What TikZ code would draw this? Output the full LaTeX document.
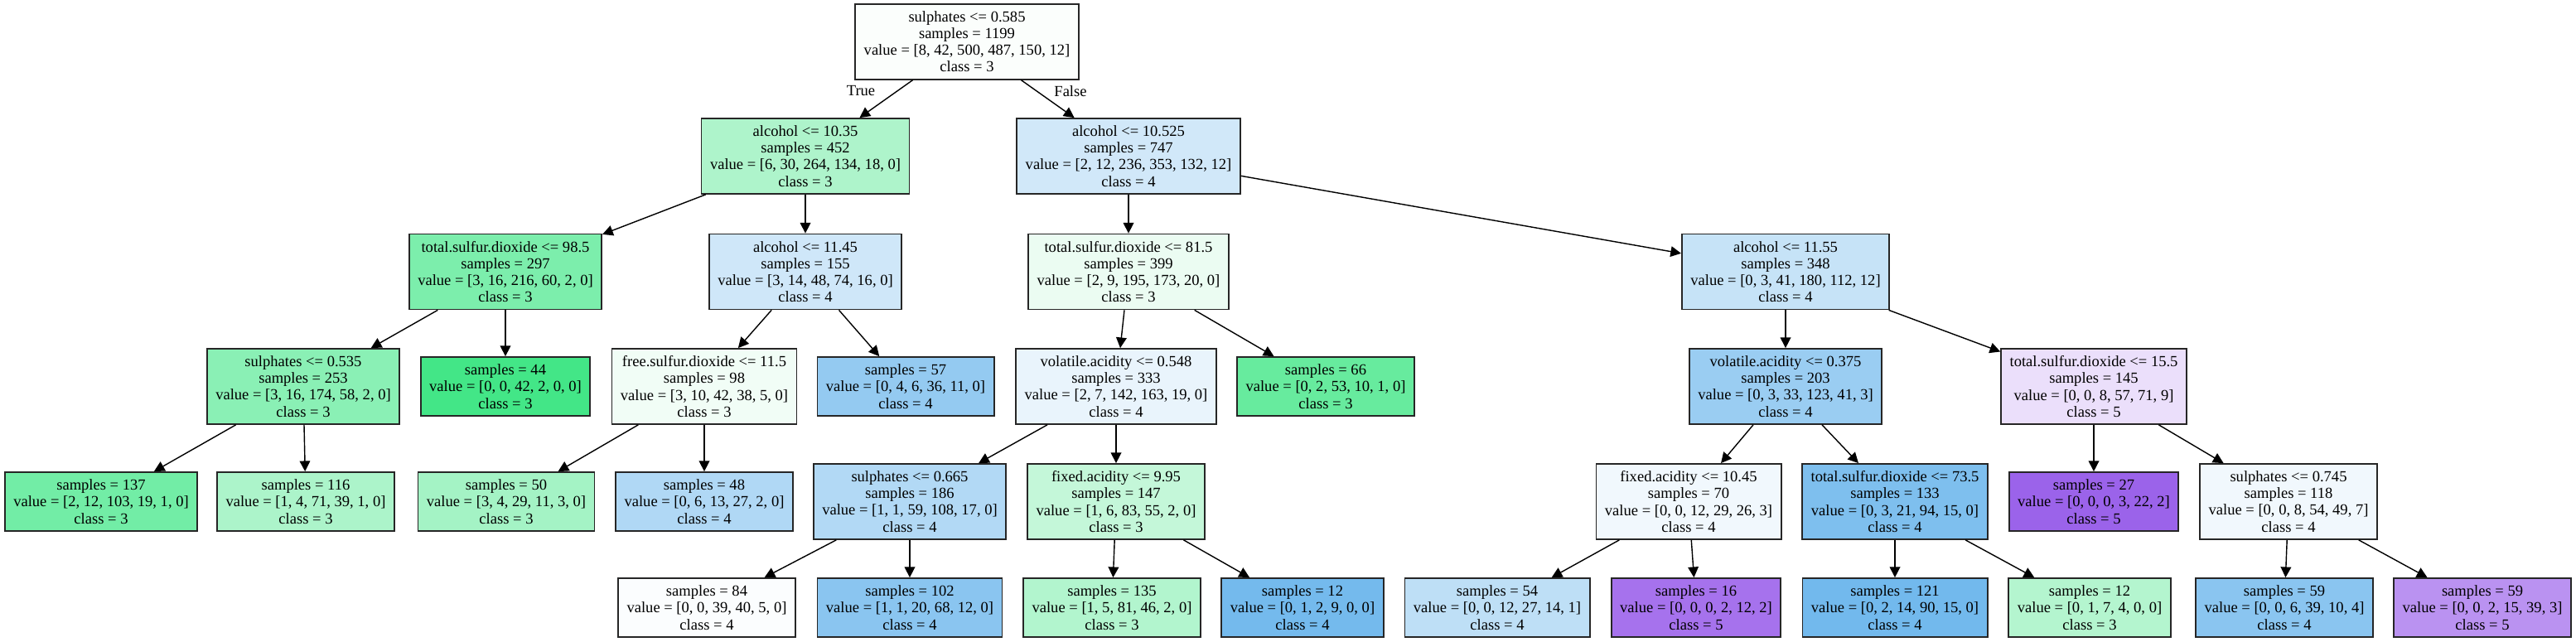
\documentclass[tikz,border=0pt]{standalone}
\usepackage{fontspec}
\setmainfont{Liberation Serif}
\usetikzlibrary{arrows.meta}
\definecolor{cgreen}{HTML}{39E581}
\definecolor{cblue}{HTML}{399DE5}
\definecolor{cpurple}{HTML}{8139E5}
\begin{document}
\begin{tikzpicture}[
    font=\fontsize{5.28pt}{5.75pt}\selectfont,
    box/.style={draw=black!85,line width=0.5pt,rectangle,align=center,inner xsep=0.105cm,inner ysep=0pt},
    dec/.style={box,minimum height=0.91cm},
    leaf/.style={box,minimum height=0.71cm},
    arr/.style={-{Triangle[length=3.6pt,width=3.6pt]},line width=0.4pt}
  ]
  \useasboundingbox (0,0) rectangle (31.09,-7.75);
  % rank 0 and 1
  \node[dec,fill=cgreen!2] (root) at (11.67,-0.503) {sulphates <= 0.585\\samples = 1199\\value = [8, 42, 500, 487, 150, 12]\\class = 3};
  \node[dec,fill=cgreen!41] (alcA) at (9.72,-1.885) {alcohol <= 10.35\\samples = 452\\value = [6, 30, 264, 134, 18, 0]\\class = 3};
  \node[dec,fill=cblue!23] (alcB) at (13.62,-1.885) {alcohol <= 10.525\\samples = 747\\value = [2, 12, 236, 353, 132, 12]\\class = 4};
  % rank 2
  \node[dec,fill=cgreen!66] (tsdA) at (6.10,-3.28) {total.sulfur.dioxide <= 98.5\\samples = 297\\value = [3, 16, 216, 60, 2, 0]\\class = 3};
  \node[dec,fill=cblue!24] (alcC) at (9.72,-3.28) {alcohol <= 11.45\\samples = 155\\value = [3, 14, 48, 74, 16, 0]\\class = 4};
  \node[dec,fill=cgreen!10] (tsdB) at (13.62,-3.28) {total.sulfur.dioxide <= 81.5\\samples = 399\\value = [2, 9, 195, 173, 20, 0]\\class = 3};
  \node[dec,fill=cblue!29] (alcD) at (21.55,-3.28) {alcohol <= 11.55\\samples = 348\\value = [0, 3, 41, 180, 112, 12]\\class = 4};
  % rank 3
  \node[dec,fill=cgreen!59] (sulA) at (3.66,-4.665) {sulphates <= 0.535\\samples = 253\\value = [3, 16, 174, 58, 2, 0]\\class = 3};
  \node[leaf,fill=cgreen!95] (lf44) at (6.10,-4.665) {samples = 44\\value = [0, 0, 42, 2, 0, 0]\\class = 3};
  \node[dec,fill=cgreen!7] (fsdA) at (8.50,-4.665) {free.sulfur.dioxide <= 11.5\\samples = 98\\value = [3, 10, 42, 38, 5, 0]\\class = 3};
  \node[leaf,fill=cblue!54] (lf57) at (10.93,-4.665) {samples = 57\\value = [0, 4, 6, 36, 11, 0]\\class = 4};
  \node[dec,fill=cblue!11] (vaA) at (13.47,-4.665) {volatile.acidity <= 0.548\\samples = 333\\value = [2, 7, 142, 163, 19, 0]\\class = 4};
  \node[leaf,fill=cgreen!77] (lf66) at (16.00,-4.665) {samples = 66\\value = [0, 2, 53, 10, 1, 0]\\class = 3};
  \node[dec,fill=cblue!51] (vaB) at (21.55,-4.665) {volatile.acidity <= 0.375\\samples = 203\\value = [0, 3, 33, 123, 41, 3]\\class = 4};
  \node[dec,fill=cpurple!16] (tsdC) at (25.27,-4.665) {total.sulfur.dioxide <= 15.5\\samples = 145\\value = [0, 0, 8, 57, 71, 9]\\class = 5};
  % rank 4
  \node[leaf,fill=cgreen!71] (lf137) at (1.22,-6.055) {samples = 137\\value = [2, 12, 103, 19, 1, 0]\\class = 3};
  \node[leaf,fill=cgreen!42] (lf116) at (3.69,-6.055) {samples = 116\\value = [1, 4, 71, 39, 1, 0]\\class = 3};
  \node[leaf,fill=cgreen!46] (lf50) at (6.11,-6.055) {samples = 50\\value = [3, 4, 29, 11, 3, 0]\\class = 3};
  \node[leaf,fill=cblue!40] (lf48) at (8.50,-6.055) {samples = 48\\value = [0, 6, 13, 27, 2, 0]\\class = 4};
  \node[dec,fill=cblue!39] (sulB) at (10.98,-6.055) {sulphates <= 0.665\\samples = 186\\value = [1, 1, 59, 108, 17, 0]\\class = 4};
  \node[dec,fill=cgreen!30] (faA) at (13.47,-6.055) {fixed.acidity <= 9.95\\samples = 147\\value = [1, 6, 83, 55, 2, 0]\\class = 3};
  \node[dec,fill=cblue!7] (faB) at (20.38,-6.055) {fixed.acidity <= 10.45\\samples = 70\\value = [0, 0, 12, 29, 26, 3]\\class = 4};
  \node[dec,fill=cblue!65] (tsdD) at (22.87,-6.055) {total.sulfur.dioxide <= 73.5\\samples = 133\\value = [0, 3, 21, 94, 15, 0]\\class = 4};
  \node[leaf,fill=cpurple!79] (lf27) at (25.27,-6.055) {samples = 27\\value = [0, 0, 0, 3, 22, 2]\\class = 5};
  \node[dec,fill=cblue!7] (sulC) at (27.62,-6.055) {sulphates <= 0.745\\samples = 118\\value = [0, 0, 8, 54, 49, 7]\\class = 4};
  % rank 5
  \node[leaf,fill=cblue!2] (lf84) at (8.53,-7.335) {samples = 84\\value = [0, 0, 39, 40, 5, 0]\\class = 4};
  \node[leaf,fill=cblue!59] (lf102) at (10.98,-7.335) {samples = 102\\value = [1, 1, 20, 68, 12, 0]\\class = 4};
  \node[leaf,fill=cgreen!39] (lf135) at (13.42,-7.335) {samples = 135\\value = [1, 5, 81, 46, 2, 0]\\class = 3};
  \node[leaf,fill=cblue!70] (lf12a) at (15.72,-7.335) {samples = 12\\value = [0, 1, 2, 9, 0, 0]\\class = 4};
  \node[leaf,fill=cblue!33] (lf54) at (18.07,-7.335) {samples = 54\\value = [0, 0, 12, 27, 14, 1]\\class = 4};
  \node[leaf,fill=cpurple!71] (lf16) at (20.47,-7.335) {samples = 16\\value = [0, 0, 0, 2, 12, 2]\\class = 5};
  \node[leaf,fill=cblue!71] (lf121) at (22.87,-7.335) {samples = 121\\value = [0, 2, 14, 90, 15, 0]\\class = 4};
  \node[leaf,fill=cgreen!38] (lf12b) at (25.22,-7.335) {samples = 12\\value = [0, 1, 7, 4, 0, 0]\\class = 3};
  \node[leaf,fill=cblue!59] (lf59a) at (27.57,-7.335) {samples = 59\\value = [0, 0, 6, 39, 10, 4]\\class = 4};
  \node[leaf,fill=cpurple!55] (lf59b) at (29.96,-7.335) {samples = 59\\value = [0, 0, 2, 15, 39, 3]\\class = 5};
  % edges
  \draw[arr] (root) -- (alcA);
  \draw[arr] (root) -- (alcB);
  \node (tru) at (10.39,-1.10) {True};
  \node (fls) at (12.92,-1.10) {False};
  \draw[arr] (alcA) -- (tsdA);
  \draw[arr] (alcA) -- (alcC);
  \draw[arr] (alcB) -- (tsdB);
  \draw[arr] (alcB) -- (alcD);
  \draw[arr] (tsdA) -- (sulA);
  \draw[arr] (tsdA) -- (lf44);
  \draw[arr] (alcC) -- (fsdA);
  \draw[arr] (alcC) -- (lf57);
  \draw[arr] (tsdB) -- (vaA);
  \draw[arr] (tsdB) -- (lf66);
  \draw[arr] (alcD) -- (vaB);
  \draw[arr] (alcD) -- (tsdC);
  \draw[arr] (sulA) -- (lf137);
  \draw[arr] (sulA) -- (lf116);
  \draw[arr] (fsdA) -- (lf50);
  \draw[arr] (fsdA) -- (lf48);
  \draw[arr] (vaA) -- (sulB);
  \draw[arr] (vaA) -- (faA);
  \draw[arr] (vaB) -- (faB);
  \draw[arr] (vaB) -- (tsdD);
  \draw[arr] (tsdC) -- (lf27);
  \draw[arr] (tsdC) -- (sulC);
  \draw[arr] (sulB) -- (lf84);
  \draw[arr] (sulB) -- (lf102);
  \draw[arr] (faA) -- (lf135);
  \draw[arr] (faA) -- (lf12a);
  \draw[arr] (faB) -- (lf54);
  \draw[arr] (faB) -- (lf16);
  \draw[arr] (tsdD) -- (lf121);
  \draw[arr] (tsdD) -- (lf12b);
  \draw[arr] (sulC) -- (lf59a);
  \draw[arr] (sulC) -- (lf59b);
\end{tikzpicture}
\end{document}
